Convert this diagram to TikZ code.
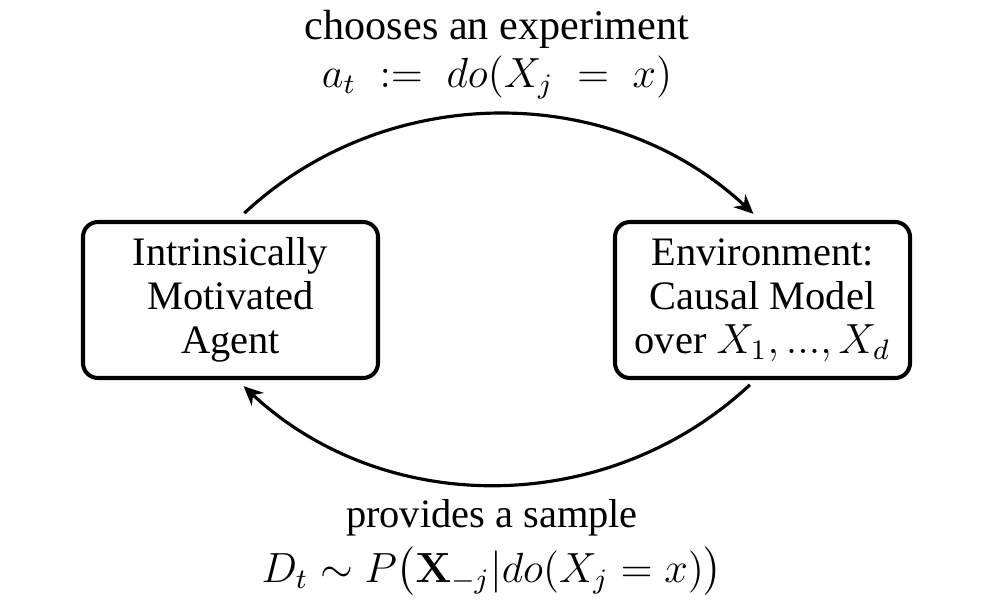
\documentclass[tikz,border=0pt]{standalone}
\usepackage{amsmath}
\usepackage{amssymb}
\usepackage[no-math]{fontspec}
\setmainfont{Liberation Serif}
\usetikzlibrary{arrows.meta}
\usetikzlibrary{positioning}
\tikzset{>={Stealth[length=5.5pt, width=5pt, inset=1.8pt]}}
\tikzstyle{block} = [rectangle, draw=black, line width=1.15pt, rounded corners=0.15cm, minimum width=2.95cm, minimum height=1.56cm, align=center, inner sep=0pt]
\tikzstyle{loop} = [->, line width=0.9pt, draw=black]

\begin{document}
\begin{tikzpicture}[font=\fontsize{11.5}{12.6}\selectfont]
\useasboundingbox (0,0) rectangle (10,6);
\node [block] (agent) at (2.305, 3.0) {Intrinsically\\Motivated\\Agent};
\node [block] (env) at (7.625, 3.0) {Environment:\\Causal Model\\over $X_1, ..., X_d$};
\draw [loop, bend left = 43, shorten <= 0.1cm, shorten >= 0.09cm] ([xshift=0.065cm]agent.north) to ([xshift=-0.025cm]env.north);
\draw [loop, bend left = 43, shorten <= 0.07cm, shorten >= 0.09cm] ([xshift=-0.075cm]env.south) to ([xshift=0.065cm]agent.south);
\node [draw=none, align=center] (choose) at (4.97, 5.45) {{\fontsize{12}{12.6}\selectfont chooses an experiment}\\[1pt]$a_t \;:=\; do(X_j \;=\; x)$};
\node [draw=none, align=center] (sample) at (4.92, 0.52) {provides a sample\\[2pt]$D_t \sim P\big(\mathbf{X}_{-j} | do(X_j = x)\big)$};
\end{tikzpicture}
\end{document}
